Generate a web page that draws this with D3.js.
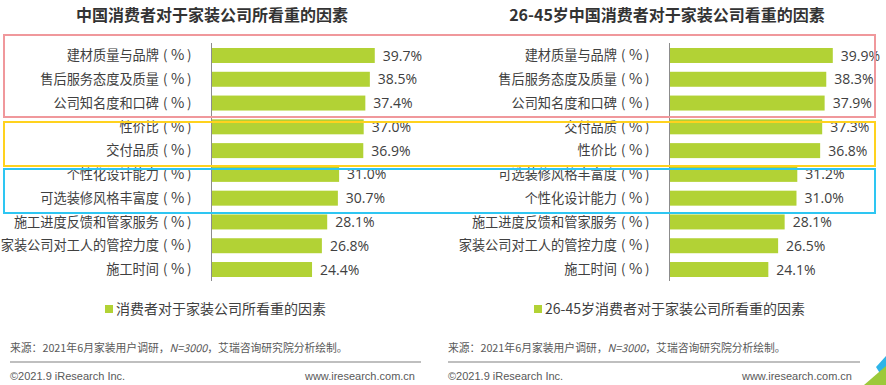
<!DOCTYPE html>
<html>
<head>
<meta charset="utf-8">
<script src="https://cdn.jsdelivr.net/npm/d3@7"></script>
<style>
  html, body { margin: 0; padding: 0; background: #fff; }
  svg { display: block; font-family: "Open Sans", "Noto Sans CJK SC", sans-serif; }
</style>
</head>
<body>
<div id="chart"></div>
<script>
// ── Dados ──
const leftTitle = '中国消费者对于家装公司所看重的因素';
const leftCategories = ['建材质量与品牌', '售后服务态度及质量', '公司知名度和口碑', '性价比', '交付品质',
  '个性化设计能力', '可选装修风格丰富度', '施工进度反馈和管家服务', '家装公司对工人的管控力度', '施工时间'];
const leftValues = [39.7, 38.5, 37.4, 37.0, 36.9, 31.0, 30.7, 28.1, 26.8, 24.4];
const leftLegend = '消费者对于家装公司所看重的因素';

const rightTitle = '26-45岁中国消费者对于家装公司看重的因素';
const rightCategories = ['建材质量与品牌', '售后服务态度及质量', '公司知名度和口碑', '交付品质', '性价比',
  '可选装修风格丰富度', '个性化设计能力', '施工进度反馈和管家服务', '家装公司对工人的管控力度', '施工时间'];
const rightValues = [39.9, 38.3, 37.9, 37.3, 36.8, 31.2, 31.0, 28.1, 26.5, 24.1];
const rightLegend = '26-45岁消费者对于家装公司所看重的因素';

const unitSuffix = ['(', '%', ')'];
const sourceNote = ['来源：2021年6月家装用户调研，', 'N=3000', '，艾瑞咨询研究院分析绘制。'];
const copyright = '©2021.9 iResearch Inc.';
const website = 'www.iresearch.com.cn';

// ── Cores ──
const COR = {
  barra: '#B2D235',
  eixo: '#8c8c8c',
  texto: '#404040',
  titulo: '#333333',
  nota: '#595959',
  linha: '#bfbfbf',
  rosa: '#F0989C',
  amarelo: '#FFD21E',
  azul: '#2EC6F2',
};

const W = 886, H = 385;
const svg = d3.select('#chart').append('svg').attr('width', W).attr('height', H);

function painel(cfg) {
  const g = svg.append('g');
  const y = d3.scaleBand()
    .domain(cfg.categories)
    .range([43.6, 281.4])
    .paddingInner(0.37)
    .paddingOuter(0.185);
  const x = d3.scaleLinear().domain([0, 40]).range([cfg.axisX + 1, cfg.axisX + 1 + cfg.pxPer * 40]);

  g.append('text')
    .attr('x', cfg.titleX).attr('y', 21)
    .attr('text-anchor', 'middle')
    .style('font-family', '"Noto Sans CJK SC", sans-serif')
    .style('font-size', '16px').style('font-weight', 700)
    .style('fill', COR.titulo)
    .text(cfg.title);

  g.selectAll('rect.bar')
    .data(cfg.values)
    .enter().append('rect')
    .attr('class', 'bar')
    .attr('x', x(0))
    .attr('y', (d, i) => y(cfg.categories[i]))
    .attr('width', d => x(d) - x(0))
    .attr('height', y.bandwidth())
    .style('fill', COR.barra);

  // rótulos das categorias: nome + "( % )"
  const cat = g.selectAll('text.cat')
    .data(cfg.categories)
    .enter().append('text')
    .attr('class', 'cat')
    .attr('y', d => y(d) + y.bandwidth() / 2)
    .attr('dy', '0.36em')
    .style('font-family', '"Noto Sans CJK SC", sans-serif')
    .style('font-size', '13.2px')
    .style('fill', COR.texto);
  cat.append('tspan')
    .attr('x', cfg.axisX - 52)
    .attr('text-anchor', 'end')
    .text(d => d);
  cat.append('tspan')
    .attr('x', cfg.axisX - 48)
    .attr('text-anchor', 'start')
    .text(unitSuffix[0]);
  cat.append('tspan')
    .attr('x', cfg.axisX - 40)
    .attr('text-anchor', 'start')
    .style('font-size', '14.5px')
    .text(unitSuffix[1]);
  cat.append('tspan')
    .attr('x', cfg.axisX - 24)
    .attr('text-anchor', 'start')
    .text(unitSuffix[2]);

  g.selectAll('text.val')
    .data(cfg.values)
    .enter().append('text')
    .attr('class', 'val')
    .attr('x', d => x(d) + 8)
    .attr('y', (d, i) => y(cfg.categories[i]) + y.bandwidth() / 2)
    .attr('dy', '0.36em')
    .style('font-size', '14px')
    .style('fill', COR.texto)
    .text(d => d.toFixed(1) + '%');

  g.append('line')
    .attr('x1', cfg.axisX + 0.5).attr('x2', cfg.axisX + 0.5)
    .attr('y1', 43).attr('y2', 281)
    .style('stroke', COR.eixo).style('stroke-width', 1);

  // legenda
  g.append('rect')
    .attr('x', cfg.legendX).attr('y', 305)
    .attr('width', 8).attr('height', 8)
    .style('fill', COR.barra);
  g.append('text')
    .attr('x', cfg.legendX + 11).attr('y', 309)
    .attr('dy', '0.36em')
    .style('font-family', '"Noto Sans CJK SC", sans-serif')
    .style('font-size', '14px')
    .style('fill', COR.texto)
    .text(cfg.legend);

  // fonte
  const src = g.append('text')
    .attr('x', cfg.noteX).attr('y', 352)
    .style('font-family', '"Noto Sans CJK SC", sans-serif')
    .style('font-size', '10.8px')
    .style('fill', COR.nota);
  src.append('tspan').text(sourceNote[0]);
  src.append('tspan').style('font-style', 'italic').text(sourceNote[1]);
  src.append('tspan').text(sourceNote[2]);

  g.append('line')
    .attr('x1', cfg.noteX).attr('x2', cfg.lineEnd)
    .attr('y1', 362).attr('y2', 362)
    .style('stroke', COR.linha).style('stroke-width', 2);

  g.append('text')
    .attr('x', cfg.noteX).attr('y', 380)
    .style('font-family', '"Liberation Sans", Arial, sans-serif')
    .style('font-size', '11px').style('fill', COR.nota)
    .text(copyright);
  g.append('text')
    .attr('x', cfg.webEnd).attr('y', 380)
    .attr('text-anchor', 'end')
    .style('font-family', '"Liberation Sans", Arial, sans-serif')
    .style('font-size', '11px').style('fill', COR.nota)
    .text(website);
}

painel({ title: leftTitle, categories: leftCategories, values: leftValues, legend: leftLegend,
  titleX: 212, axisX: 211, pxPer: 4.1, legendX: 105, noteX: 10, lineEnd: 421, webEnd: 415 });
painel({ title: rightTitle, categories: rightCategories, values: rightValues, legend: rightLegend,
  titleX: 667, axisX: 669, pxPer: 4.08, legendX: 534, noteX: 448, lineEnd: 860, webEnd: 852 });

// ── Caixas de destaque ──
const caixas = [
  { y0: 35, y1: 117, cor: COR.rosa },
  { y0: 122, y1: 166, cor: COR.amarelo },
  { y0: 169, y1: 213, cor: COR.azul },
];
svg.selectAll('rect.caixa')
  .data(caixas)
  .enter().append('rect')
  .attr('class', 'caixa')
  .attr('x', 4).attr('y', d => d.y0)
  .attr('width', 871).attr('height', d => d.y1 - d.y0)
  .style('fill', 'none')
  .style('stroke', d => d.cor)
  .style('stroke-width', 2);

// ── Decoração canto inferior direito ──
svg.append('polygon')
  .attr('points', '876,367 886,356 886,372 881,375')
  .style('fill', '#2EB4E8');
svg.append('polygon')
  .attr('points', '864,385 886,366 886,385')
  .style('fill', '#9CC93A');
</script>
</body>
</html>
